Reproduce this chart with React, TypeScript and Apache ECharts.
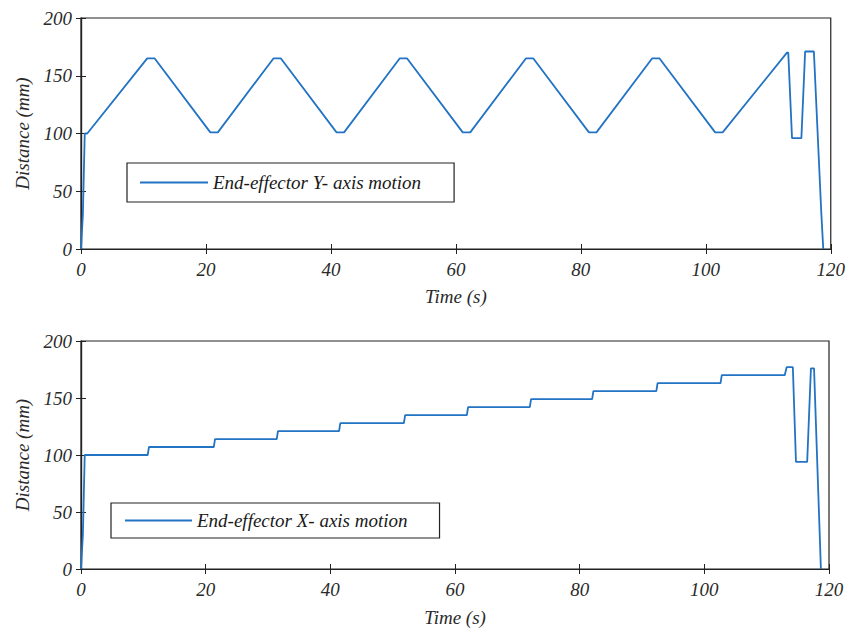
import React, { useEffect, useRef } from "react";
import * as echarts from "echarts";

// Top chart: End-effector Y-axis motion (time s, distance mm)
const yMotionTime = [0, 0.3, 0.6, 1, 10.6, 11.8, 20.7, 21.9, 30.8, 32.0, 40.9, 42.1, 51.0, 52.2, 61.1, 62.3, 71.2, 72.4, 81.3, 82.5, 91.4, 92.6, 101.5, 102.7, 113, 113.2, 113.8, 115.3, 115.9, 117.3, 118.5, 118.8];
const yMotionValue = [0, 30, 100, 100, 165, 165, 101, 101, 165, 165, 101, 101, 165, 165, 101, 101, 165, 165, 101, 101, 165, 165, 101, 101, 170, 170, 96, 96, 171, 171, 30, 0];

// Bottom chart: End-effector X-axis motion
const xMotionTime = [0, 0.3, 0.6, 10.7, 10.9, 21.3, 21.5, 31.4, 31.6, 41.4, 41.6, 51.8, 52, 61.9, 62.1, 72, 72.2, 82, 82.2, 92.3, 92.5, 102.6, 102.8, 112.9, 113.2, 114.2, 114.7, 116.5, 117.1, 117.6, 118.7];
const xMotionValue = [0, 30, 100, 100, 107, 107, 114, 114, 121, 121, 128, 128, 135, 135, 142, 142, 149, 149, 156, 156, 163, 163, 170, 170, 177, 177, 94, 94, 176, 176, 0];

const xTicks = { min: 0, max: 120, interval: 20 };
const yTicks = { min: 0, max: 200, interval: 50 };

const seriesNames = ["End-effector Y- axis motion", "End-effector X- axis motion"];

const LINE_COLOR = "#2273c3";
const FONT = "Liberation Serif";

export default function App() {
  const ref = useRef<HTMLDivElement>(null);
  useEffect(() => {
    document.body.style.margin = "0";
    const chart = echarts.init(ref.current!, null, { renderer: "svg" });
    const labelStyle = {
      fontFamily: FONT,
      fontStyle: "italic" as const,
      fontSize: 19,
      color: "#2a2a2a",
    };
    const nameStyle = {
      fontFamily: FONT,
      fontStyle: "italic" as const,
      fontSize: 19,
      color: "#2a2a2a",
    };
    const mkX = (gridIndex: number, main: boolean, gap: number) => ({
      type: "value" as const,
      gridIndex,
      position: main ? "bottom" : "top",
      ...xTicks,
      name: main ? "Time (s)" : "",
      nameLocation: "middle" as const,
      nameGap: gap,
      nameTextStyle: nameStyle,
      axisLine: { show: true, lineStyle: { color: "#222", width: 1.2 } },
      axisTick: { show: true, inside: true, length: 5, lineStyle: { color: "#222" } },
      axisLabel: { show: main, margin: 11, ...labelStyle },
      splitLine: { show: false },
    });
    const mkY = (gridIndex: number, main: boolean) => ({
      type: "value" as const,
      gridIndex,
      position: main ? "left" : "right",
      ...yTicks,
      name: main ? "Distance (mm)" : "",
      nameLocation: "middle" as const,
      nameGap: 49,
      nameTextStyle: nameStyle,
      axisLine: { show: true, lineStyle: { color: "#222", width: 1.2 } },
      axisTick: { show: true, inside: true, length: 5, lineStyle: { color: "#222" } },
      axisLabel: { show: main, margin: 9, ...labelStyle },
      splitLine: { show: false },
    });
    const topData = yMotionTime.map((t, i) => [t, yMotionValue[i]]);
    const botData = xMotionTime.map((t, i) => [t, xMotionValue[i]]);
    const legendText = { fontFamily: FONT, fontStyle: "italic" as const, fontSize: 19, color: "#1a1a1a" };
    chart.setOption({
      animation: false,
      backgroundColor: "#fff",
      grid: [
        { left: 81, top: 18, width: 750, height: 231, show: true, borderColor: "#222", borderWidth: 1.2, backgroundColor: "transparent" },
        { left: 81, top: 341, width: 748, height: 228, show: true, borderColor: "#222", borderWidth: 1.2, backgroundColor: "transparent" },
      ],
      xAxis: [mkX(0, true, 38), mkX(0, false, 0), mkX(1, true, 39), mkX(1, false, 0)],
      yAxis: [mkY(0, true), mkY(0, false), mkY(1, true), mkY(1, false)],
      legend: [
        {
          data: [seriesNames[0]],
          left: 127,
          top: 163,
          orient: "horizontal",
          icon: "rect",
          itemWidth: 68,
          itemHeight: 2,
          padding: [10, 33, 10, 13],
          borderColor: "#222",
          borderWidth: 1.2,
          backgroundColor: "#fff",
          textStyle: legendText,
          selectedMode: false,
        },
        {
          data: [seriesNames[1]],
          left: 111,
          top: 503,
          orient: "horizontal",
          icon: "rect",
          itemWidth: 67,
          itemHeight: 2,
          padding: [8, 32, 8, 14],
          borderColor: "#222",
          borderWidth: 1.2,
          backgroundColor: "#fff",
          textStyle: legendText,
          selectedMode: false,
        },
      ],
      series: [
        {
          name: seriesNames[0],
          type: "line",
          xAxisIndex: 0,
          yAxisIndex: 0,
          data: topData,
          symbol: "none",
          lineStyle: { color: LINE_COLOR, width: 1.8 },
          itemStyle: { color: LINE_COLOR },
          z: 3,
        },
        {
          name: seriesNames[1],
          type: "line",
          xAxisIndex: 2,
          yAxisIndex: 2,
          data: botData,
          symbol: "none",
          lineStyle: { color: LINE_COLOR, width: 1.8 },
          itemStyle: { color: LINE_COLOR },
          z: 3,
        },
      ],
    });
    return () => chart.dispose();
  }, []);
  return <div ref={ref} style={{ width: 848, height: 631 }} />;
}
